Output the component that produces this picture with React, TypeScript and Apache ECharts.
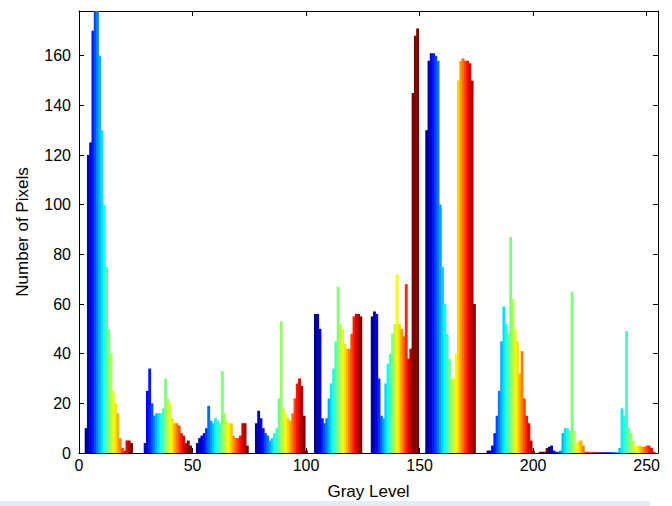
import React, { useEffect, useRef } from "react";
import * as echarts from "echarts";

// Gray levels 0..255 (categories of the histogram)
const grayLevels: number[] = Array.from({ length: 256 }, (_, i) => i);

// Number of pixels at each gray level
const pixelCounts: number[] = [
  // 0-25
  0, 0, 0, 10, 120, 125, 170, 178, 178, 160, 130, 100, 75, 50, 40, 25, 20, 16, 6, 2, 1, 5, 5, 4, 0, 0,
  // 26-51
  0, 0, 0, 4, 25, 34, 20, 15, 16, 16, 16, 18, 30, 22, 20, 14, 12, 12, 11, 8, 7, 4, 5, 3, 0, 0,
  // 52-77
  4, 6, 7, 8, 10, 19, 13, 12, 14, 13, 12, 33, 16, 13, 12, 12, 7, 6, 6, 7, 12, 12, 3, 0, 0, 0,
  // 78-103
  12, 17, 14, 10, 8, 7, 5, 6, 8, 10, 22, 53, 18, 16, 14, 13, 16, 22, 28, 30, 27, 15, 1, 0, 0, 0,
  // 104-128
  56, 56, 50, 14, 12, 14, 22, 28, 34, 45, 67, 52, 50, 44, 42, 42, 48, 55, 56, 56, 55, 0, 0, 0, 0,
  // 129-152
  55, 57, 56, 30, 15, 14, 28, 36, 40, 48, 52, 72, 52, 50, 47, 68, 38, 42, 145, 168, 171, 0, 0, 0,
  // 153-179
  130, 158, 161, 161, 160, 158, 100, 75, 60, 48, 38, 30, 30, 40, 150, 158, 159, 158, 158, 157, 150, 60, 0, 0, 0, 0, 0,
  // 180-202
  1, 1, 3, 8, 15, 25, 45, 59, 52, 48, 87, 62, 50, 45, 32, 41, 22, 15, 12, 5, 1, 0, 0,
  // 203-229
  0.5, 0.5, 0.5, 2, 2.5, 3, 1, 0.5, 0.5, 1, 8, 10, 10, 9, 65, 9, 4, 5, 5, 3, 0.5, 0.5, 0.3, 0.3, 0.3, 0.3, 0.3,
  // 230-255
  0.3, 0.3, 0.3, 0.3, 0.3, 0.3, 0.3, 0.3, 2, 18, 15, 49, 10, 8, 5, 3, 3, 3, 2.5, 2.5, 3, 3, 2, 0.5, 0, 0,
];

// Gray-level clusters, each coloured with its own sweep of the jet colour map
const clusterStarts: number[] = [3, 28, 52, 78, 104, 129, 153, 180, 207, 230];
const clusterEnds: number[] = [23, 48, 74, 99, 124, 147, 174, 200, 227, 255];

const yTicks: number[] = [0, 20, 40, 60, 80, 100, 120, 140, 160];
const xTicks: number[] = [0, 50, 100, 150, 200, 250];

function clamp(v: number) {
  return Math.max(0, Math.min(1, v));
}
function jet(t0: number) {
  const t = clamp(t0);
  const r = clamp(1.5 - Math.abs(4 * t - 3));
  const g = clamp(1.5 - Math.abs(4 * t - 2));
  const b = clamp(1.5 - Math.abs(4 * t - 1));
  return `rgb(${Math.round(r * 255)},${Math.round(g * 255)},${Math.round(b * 255)})`;
}
function colorFor(level: number) {
  for (let k = 0; k < clusterStarts.length; k++) {
    const end = k + 1 < clusterStarts.length ? clusterStarts[k + 1] - 1 : 255;
    if (level >= clusterStarts[k] && level <= end) {
      return jet((level - clusterStarts[k]) / (clusterEnds[k] - clusterStarts[k]));
    }
  }
  return jet(0.02);
}

const FONT = "'Liberation Sans', Arial, Helvetica, sans-serif";

export default function App() {
  const ref = useRef<HTMLDivElement>(null);
  useEffect(() => {
    if (!ref.current) return;
    const chart = echarts.init(ref.current, null, { renderer: "svg" });
    const colors = grayLevels.map(colorFor);
    const data = grayLevels.map((g, i) => [g, pixelCounts[i]]);
    const axisLine = { show: true, onZero: false, lineStyle: { color: "#000", width: 1 } };
    const axisTick = { show: true, inside: true, length: 5, lineStyle: { color: "#000", width: 1 } };
    chart.setOption({
      animation: false,
      backgroundColor: "#fff",
      grid: { left: 79, right: 14, top: 11, bottom: 53, containLabel: false },
      xAxis: [
        {
          type: "value",
          position: "bottom",
          min: 0,
          max: 255,
          interval: 50,
          axisLine,
          axisTick,
          splitLine: { show: false },
          axisLabel: {
            color: "#000",
            fontSize: 16,
            fontFamily: FONT,
            margin: 4,
            formatter: (v: number) => (xTicks.includes(v) ? String(v) : ""),
          },
          name: "Gray Level",
          nameLocation: "middle",
          nameGap: 30,
          nameTextStyle: { color: "#000", fontSize: 17, fontFamily: FONT },
        },
        {
          type: "value",
          position: "top",
          min: 0,
          max: 255,
          interval: 50,
          axisLine,
          axisTick,
          splitLine: { show: false },
          axisLabel: { show: false },
        },
      ],
      yAxis: [
        {
          type: "value",
          position: "left",
          min: 0,
          max: 178,
          interval: 20,
          axisLine,
          axisTick,
          splitLine: { show: false },
          axisLabel: {
            color: "#000",
            fontSize: 16,
            fontFamily: FONT,
            margin: 8,
            formatter: (v: number) => (yTicks.includes(v) ? String(v) : ""),
          },
          name: "Number of Pixels",
          nameLocation: "middle",
          nameGap: 48,
          nameRotate: 90,
          nameTextStyle: { color: "#000", fontSize: 17, fontFamily: FONT },
        },
        {
          type: "value",
          position: "right",
          min: 0,
          max: 178,
          interval: 20,
          axisLine,
          axisTick,
          splitLine: { show: false },
          axisLabel: { show: false },
        },
      ],
      graphic: [
        {
          type: "rect",
          left: 0,
          top: 501,
          shape: { width: 650, height: 5 },
          style: { fill: "#e2eef7" },
          silent: true,
        },
      ],
      series: [
        {
          type: "custom",
          xAxisIndex: 0,
          yAxisIndex: 0,
          clip: true,
          data,
          renderItem: (params: any, api: any) => {
            const g = api.value(0);
            const v = api.value(1);
            const p0 = api.coord([g - 0.5, v]);
            const p1 = api.coord([g + 0.5, 0]);
            const c = colors[params.dataIndex];
            return {
              type: "rect",
              shape: { x: p0[0], y: p0[1], width: p1[0] - p0[0] + 0.6, height: p1[1] - p0[1] },
              style: { fill: c },
            };
          },
        },
      ],
    });
    return () => chart.dispose();
  }, []);
  return (
    <div
      ref={ref}
      style={{ position: "fixed", left: 0, top: 0, width: 672, height: 506, background: "#fff" }}
    />
  );
}
